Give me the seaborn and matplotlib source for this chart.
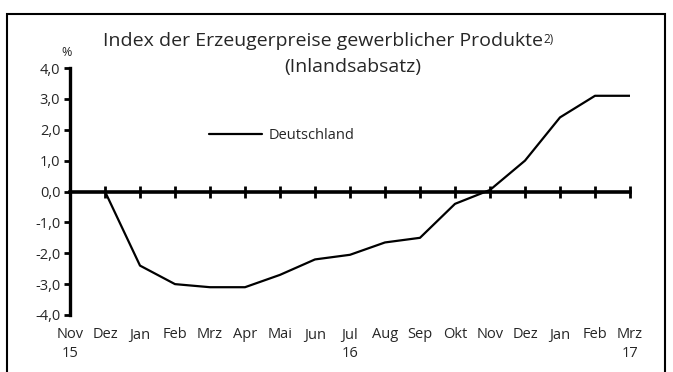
import numpy as np
import pandas as pd
import matplotlib
matplotlib.use("Agg")
import matplotlib.pyplot as plt
import seaborn as sns

# Monthly change of producer prices (Inlandsabsatz), Nov 2015 – Mrz 2017
months = ["Nov\n15", "Dez", "Jan", "Feb", "Mrz", "Apr", "Mai", "Jun", "Jul\n16",
          "Aug", "Sep", "Okt", "Nov", "Dez", "Jan", "Feb", "Mrz\n17"]
deutschland = [np.nan, 0.0, -2.4, -3.0, -3.1, -3.1, -2.7, -2.2, -2.05,
               -1.65, -1.5, -0.4, 0.05, 1.0, 2.4, 3.1, 3.1]
y_ticks = [-4.0, -3.0, -2.0, -1.0, 0.0, 1.0, 2.0, 3.0, 4.0]

df = pd.DataFrame({"pos": np.arange(len(months)), "wert": deutschland})

sns.set_theme(style="white")
plt.rcParams["font.family"] = ["Open Sans", "DejaVu Sans"]

fig = plt.figure(figsize=(6.73, 3.72), dpi=100)
ax = fig.add_axes([70 / 673, 57 / 372, 560 / 673, 247 / 372])

sns.lineplot(data=df, x="pos", y="wert", ax=ax, color="black", linewidth=1.6,
             label="Deutschland", legend=False)

ax.set_xlim(0, len(months) - 1)
ax.set_ylim(-4, 4)
ax.set_xlabel("")
ax.set_ylabel("")

# y axis
for s in ["top", "right"]:
    ax.spines[s].set_visible(False)
ax.spines["left"].set_linewidth(2.4)
ax.spines["left"].set_color("black")
ax.set_yticks(y_ticks)
ax.set_yticklabels([f"{v:.1f}".replace(".", ",") for v in y_ticks], fontsize=10.5)
ax.tick_params(axis="y", left=True, direction="out", length=4, width=2,
               color="black", pad=3)

# zero line acting as x axis with month ticks
ax.spines["bottom"].set_position(("data", 0))
ax.spines["bottom"].set_linewidth(2.6)
ax.spines["bottom"].set_color("black")
ax.set_xticks(df["pos"])
ax.tick_params(axis="x", bottom=True, direction="inout", length=8, width=2,
               color="black", labelbottom=False)

# month labels along the bottom edge
sec = ax.secondary_xaxis(0.0)
sec.set_xticks(df["pos"])
sec.set_xticklabels(months, fontsize=10.5, linespacing=1.35)
sec.tick_params(axis="x", length=0, pad=9)
sec.spines["bottom"].set_visible(False)

# legend
leg = ax.legend(loc="upper left", bbox_to_anchor=(0.225, 0.81), frameon=False,
                handlelength=3.6, handletextpad=0.5, fontsize=10.5)

# titles
t = fig.text(0.48, 1 - 41 / 372, "Index der Erzeugerpreise gewerblicher Produkte",
             ha="center", va="center", fontsize=14)
ax.annotate("2)", xy=(1, 1), xycoords=t, xytext=(0, -1), textcoords="offset points",
            ha="left", va="top", fontsize=8.5)
fig.text(353 / 673, 1 - 67 / 372, "(Inlandsabsatz)", ha="center", va="center",
         fontsize=14)
fig.text(67 / 673, 1 - 52 / 372, "%", ha="center", va="center", fontsize=9)

# outer frame
fig.patches.append(plt.Rectangle((7 / 673, -0.1), 658 / 673, 1.1 - 14 / 372,
                                 transform=fig.transFigure, fill=False,
                                 edgecolor="black", linewidth=1.5))

fig.savefig("out.png", dpi=100)
